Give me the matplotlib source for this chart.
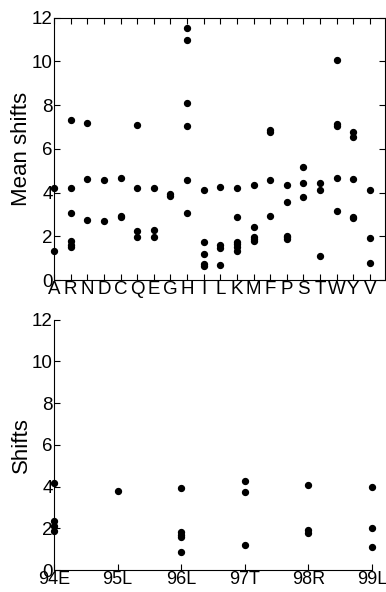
import matplotlib
matplotlib.use("Agg")
import matplotlib.pyplot as plt

plt.rcParams['font.family'] = ['Liberation Sans', 'DejaVu Sans']

# top panel: mean shifts per residue type
residues = list("ARNDCQEGHILKMFPSTWYV")
mean_shifts = [
    [4.2, 1.33],                       # A
    [7.3, 4.23, 3.08, 1.78, 1.62, 1.52],  # R
    [7.18, 4.64, 2.75],                # N
    [4.57, 2.69],                      # D
    [4.67, 2.95, 2.88],                # C
    [7.08, 4.23, 2.26, 1.98],          # Q
    [4.2, 2.27, 1.98],                 # E
    [3.94, 3.85],                      # G
    [11.54, 10.96, 8.08, 7.07, 4.57, 3.07],  # H
    [4.14, 1.72, 1.21, 0.73, 0.65],    # I
    [4.27, 1.59, 1.47, 0.70],          # L
    [4.2, 2.87, 1.76, 1.63, 1.53, 1.33],  # K
    [4.37, 2.41, 1.97, 1.89, 1.80],    # M
    [6.85, 6.78, 4.57, 2.93],          # F
    [4.37, 3.57, 2.0, 1.95, 1.88],     # P
    [5.15, 4.46, 3.80],                # S
    [4.44, 4.12, 1.11],                # T
    [10.08, 7.15, 7.05, 4.69, 3.16],   # W
    [6.78, 6.55, 4.61, 2.89, 2.84],    # Y
    [4.1, 1.92, 0.78],                 # V
]

# bottom panel: shifts per mutation site
sites = ["94E", "95L", "96L", "97T", "98R", "99L"]
site_shifts = [
    [4.18, 2.35, 2.11, 1.89],
    [3.78],
    [3.92, 1.81, 1.70, 1.57, 0.88],
    [4.26, 3.76, 1.20],
    [4.08, 1.90, 1.80],
    [4.0, 2.0, 1.12],
]

fig = plt.figure(figsize=(3.86, 5.92), dpi=100)
ax1 = fig.add_axes([0.140, 0.527, 0.857, 0.443])
ax2 = fig.add_axes([0.140, 0.037, 0.824, 0.423])

for i, vals in enumerate(mean_shifts):
    ax1.scatter([i] * len(vals), vals, s=18, color='black', zorder=3, clip_on=False)
for i, vals in enumerate(site_shifts):
    ax2.scatter([i] * len(vals), vals, s=18, color='black', zorder=3, clip_on=False)

ax1.set_xlim(0, 19.9)
ax1.set_ylim(0, 12)
ax1.set_xticks(range(len(residues)))
ax1.set_xticklabels(residues)
ax1.set_yticks(range(0, 13, 2))
ax1.tick_params(direction='in', top=True, right=True, length=4, width=0.8,
                labelsize=13.5, pad=1)
ax1.set_ylabel("Mean shifts", fontsize=16, labelpad=0)

ax2.set_xlim(0, 5)
ax2.set_ylim(0, 12)
ax2.set_xticks(range(len(sites)))
ax2.set_xticklabels(sites)
ax2.set_yticks(range(0, 13, 2))
ax2.spines['top'].set_visible(False)
ax2.spines['right'].set_visible(False)
ax2.tick_params(direction='in', length=4, width=0.8, labelsize=13, pad=1)
ax2.tick_params(axis='y', labelsize=13.5)
ax2.set_ylabel("Shifts", fontsize=16, labelpad=0)

for ax in (ax1, ax2):
    for sp in ax.spines.values():
        sp.set_linewidth(0.8)

fig.savefig("out.png", dpi=100)
